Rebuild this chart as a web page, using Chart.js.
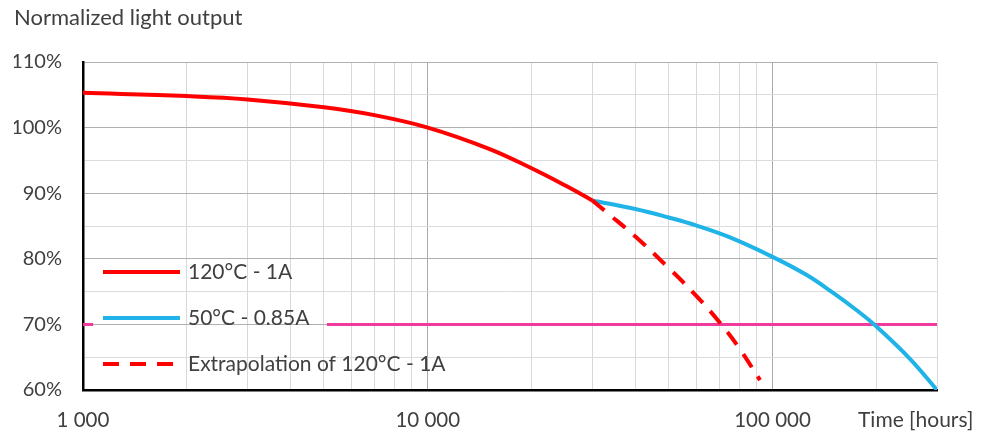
<!DOCTYPE html>
<html>
<head>
<meta charset="utf-8">
<script src="https://cdn.jsdelivr.net/npm/chart.js@4.4.0/dist/chart.umd.min.js"></script>
<style>
  html, body { margin: 0; padding: 0; background: #ffffff; }
  #wrap { width: 986px; height: 435px; }
</style>
</head>
<body>
<div id="wrap"><canvas id="c" width="986" height="435"></canvas></div>
<script>
// ---- Data ----
const seriesNames = ['120°C - 1A', '50°C - 0.85A', 'Extrapolation of 120°C - 1A'];

const redHours   = [1000, 2000, 3000, 5000, 7000, 10000, 15000, 20000, 25000, 30000];
const redValues  = [105.3, 104.8, 104.3, 103.1, 101.9, 100.0, 96.8, 93.8, 91.2, 88.9];

const blueHours  = [30000, 40000, 50000, 60000, 75000, 100000, 125000, 150000, 175000, 200000, 250000, 300000];
const blueValues = [88.9, 87.6, 86.3, 85.1, 83.3, 80.3, 77.6, 74.8, 72.2, 69.7, 64.8, 60.0];

const extrapHours  = [30000, 33000, 40000, 50000, 60000, 70000, 80000, 92000];
const extrapValues = [88.9, 87.1, 83.4, 78.6, 74.4, 70.4, 66.4, 61.5];

const limitHours  = [1000, 1070, 3000, 5100, 300000];
const limitValues = [70, 70, null, 70, 70];

const xTickValues = [1000, 10000, 100000];
const xTickLabels = ['1 000', '10 000', '100 000'];
const yTickValues = [60, 70, 80, 90, 100, 110];
const yTickLabels = ['60%', '70%', '80%', '90%', '100%', '110%'];

const yAxisTitle = 'Normalized light output';
const xAxisTitle = 'Time [hours]';

// ---- helpers ----
const pts = (xs, ys) => xs.map((x, i) => ({ x: x, y: ys[i] }));
const TEXT = '#404040';
const FONT = 'Lato';

// grid positions for the log axis: 1..9 x each decade
const xGridValues = [];
for (let e = 3; e <= 5; e++) {
  for (let m = 1; m <= 9; m++) {
    const v = m * Math.pow(10, e);
    if (v <= 300000) xGridValues.push(v);
  }
}

const insideLegend = {
  id: 'insideLegend',
  afterDatasetsDraw(chart) {
    const { ctx, chartArea } = chart;
    const items = chart.data.datasets.filter(d => d.inLegend);
    const fromBottom = [118, 72, 26];
    ctx.save();
    items.forEach((d, i) => {
      const cy = chartArea.bottom - fromBottom[i];
      const x0 = chartArea.left + 20;
      const x1 = chartArea.left + 97;
      ctx.beginPath();
      ctx.lineWidth = d.borderWidth;
      ctx.strokeStyle = d.borderColor;
      ctx.lineCap = 'butt';
      ctx.setLineDash(d.borderDash || []);
      ctx.moveTo(x0, cy);
      ctx.lineTo(x1, cy);
      ctx.stroke();
      ctx.setLineDash([]);
      ctx.font = '21px ' + FONT;
      ctx.fillStyle = TEXT;
      ctx.textBaseline = 'middle';
      ctx.textAlign = 'left';
      ctx.fillText(d.label, chartArea.left + 105, cy);
    });
    ctx.restore();
  }
};

const timeLabel = {
  id: 'timeLabel',
  afterDraw(chart) {
    const { ctx, chartArea } = chart;
    ctx.save();
    ctx.font = '21px ' + FONT;
    ctx.fillStyle = TEXT;
    ctx.textBaseline = 'middle';
    ctx.textAlign = 'left';
    ctx.fillText(xAxisTitle, chartArea.right - 79, chartArea.bottom + 18 + 12);
    ctx.restore();
  }
};

new Chart(document.getElementById('c'), {
  type: 'line',
  data: {
    datasets: [
      {
        label: seriesNames[0], inLegend: true, order: 1,
        data: pts(redHours, redValues),
        borderColor: '#ff0000', borderWidth: 4,
        pointRadius: 0, tension: 0.4, fill: false
      },
      {
        label: seriesNames[1], inLegend: true, order: 2,
        data: pts(blueHours, blueValues),
        borderColor: '#1fb3e8', borderWidth: 4,
        pointRadius: 0, tension: 0.4, fill: false
      },
      {
        label: seriesNames[2], inLegend: true, order: 0,
        data: pts(extrapHours, extrapValues),
        borderColor: '#ff0000', borderWidth: 4, borderDash: [16, 11],
        pointRadius: 0, tension: 0.4, fill: false
      },
      {
        label: 'L70', inLegend: false, order: 3,
        data: pts(limitHours, limitValues),
        borderColor: '#f03b9c', borderWidth: 3,
        pointRadius: 0, tension: 0, spanGaps: false, fill: false
      }
    ]
  },
  options: {
    responsive: false,
    animation: false,
    devicePixelRatio: 1,
    events: [],
    layout: { padding: { left: 14, right: 49, top: 0, bottom: 0 } },
    plugins: {
      legend: { display: false },
      tooltip: { enabled: false },
      title: {
        display: true,
        text: yAxisTitle,
        align: 'start',
        color: TEXT,
        font: { family: FONT, size: 22, weight: 'normal' },
        padding: { top: 5, bottom: 30.6 }
      }
    },
    scales: {
      x: {
        type: 'logarithmic',
        min: 1000, max: 300000,
        afterBuildTicks: (scale) => { scale.ticks = xGridValues.map(v => ({ value: v })); },
        afterFit: (scale) => { scale.height = 45; },
        ticks: {
          autoSkip: false, maxRotation: 0, minRotation: 0, padding: 18,
          color: TEXT, font: { family: FONT, size: 20.5 },
          callback: (value) => {
            const i = xTickValues.indexOf(value);
            return i >= 0 ? xTickLabels[i] : '';
          }
        },
        grid: {
          drawTicks: false,
          lineWidth: 1,
          color: (c) => {
            const v = c.tick ? c.tick.value : 1;
            const l = Math.log10(v);
            return Math.abs(l - Math.round(l)) < 1e-9 ? '#a9a9a9' : '#d9d9d9';
          }
        },
        border: { display: true, color: '#000000', width: 2.5 }
      },
      y: {
        min: 60, max: 110,
        afterFit: (scale) => { scale.width = 69; },
        ticks: {
          stepSize: 5, autoSkip: false, padding: 21,
          color: TEXT, font: { family: FONT, size: 20 },
          callback: (value) => {
            const i = yTickValues.indexOf(value);
            return i >= 0 ? yTickLabels[i] : '';
          }
        },
        grid: {
          drawTicks: false,
          lineWidth: 1,
          color: (c) => (c.tick && c.tick.value % 10 === 0) ? '#b0b0b0' : '#dcdcdc'
        },
        border: { display: true, color: '#000000', width: 2.5 }
      }
    }
  },
  plugins: [insideLegend, timeLabel]
});
</script>
</body>
</html>
